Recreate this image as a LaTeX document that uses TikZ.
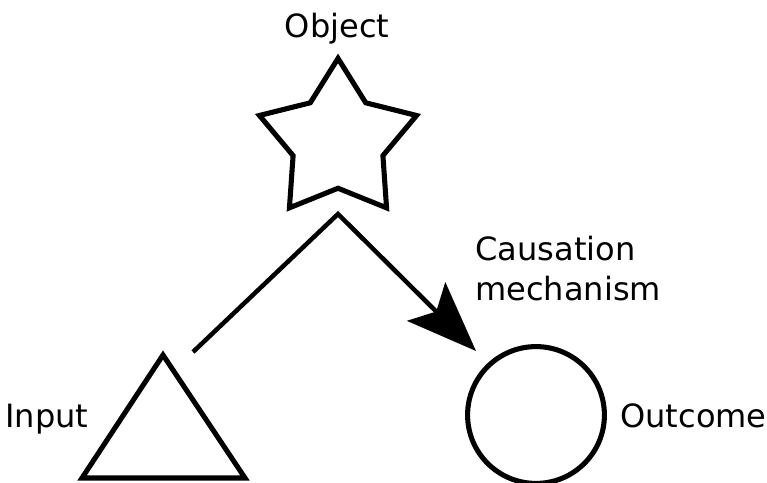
\documentclass[tikz,border=0pt]{standalone}
\usepackage{fontspec}
\setmainfont{DejaVu Sans}
\usetikzlibrary{arrows.meta,shapes.geometric}
\tikzset{
  figline/.style={line width=3.6pt,draw=black},
  labeltext/.style={inner sep=0pt,font=\fontsize{22.8pt}{28.4pt}\selectfont},
  every picture/.style={line join=miter}
}

\begin{document}
\begin{tikzpicture}[x=0.025cm,y=-0.025cm]
    \useasboundingbox (0,0) rectangle (767,482);
    % shapes
    \node[figline,star,star points=5,star point ratio=1.75,minimum size=4.13cm,inner sep=0pt] (object) at (338,141) {};
    \node[figline,circle,minimum size=3.42cm,inner sep=0pt] (outcome) at (536,415) {};
    \coordinate (tl) at (82,478);
    \coordinate (tt) at (163,355);
    \coordinate (tr) at (245,478);
    \draw[figline] (tl) -- (tt) -- (tr) -- cycle;
    % causation path
    \coordinate (start) at (193,352);
    \coordinate (bend) at (338,214);
    \coordinate (tip) at (476,351);
    \draw[figline,line width=3.2pt,-{Stealth[length=1.75cm,width=1.35cm,inset=0.35cm]}] (start) -- (bend) -- (tip);
    % labels
    \node[labeltext,anchor=base] (objlabel) at (337,37) {Object};
    \node[labeltext,anchor=base west] (inlabel) at (5,427) {Input};
    \node[labeltext,anchor=base west] (outlabel) at (620,427) {Outcome};
    \node[labeltext,anchor=base west,align=left] (mechlabel) at (475,300) {Causation\\mechanism};
\end{tikzpicture}
\end{document}
